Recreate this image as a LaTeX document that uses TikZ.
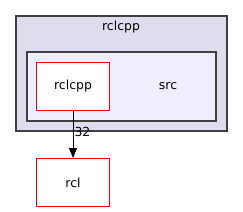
\documentclass[tikz,border=0pt]{standalone}
\usepackage{fontspec}
\setmainfont{DejaVu Sans}
\usetikzlibrary{arrows.meta}
\definecolor{outerfill}{HTML}{DDDDEE}
\definecolor{innerfill}{HTML}{EEEEFF}
\definecolor{framegray}{HTML}{404040}
\begin{document}
\begin{tikzpicture}[x=1bp,y=-1bp,
  lbl/.style={font=\fontsize{12.5}{14}\selectfont, inner sep=0pt},
  cluster/.style={draw=framegray, line width=1.3bp},
  dirbox/.style={draw=red, fill=white, line width=1bp, minimum width=72bp, minimum height=48bp, inner sep=0pt, font=\fontsize{12.5}{14}\selectfont},
  dep/.style={-{Triangle[length=10bp,width=8bp]}, line width=1bp}]
\useasboundingbox (0,0) rectangle (243,212);
\fill[white] (0,0) rectangle (243,212);
\draw[cluster, fill=outerfill] (16,16) rectangle (227,131);
\node[lbl] (outertitle) at (121,27) {rclcpp};
\draw[cluster, fill=innerfill] (27,52) rectangle (216,121);
\node[lbl] (src) at (168,86) {src};
\node[dirbox] (rclcpp) at (73,86) {rclcpp};
\node[dirbox] (rcl) at (73,182.5) {rcl};
\draw[dep] (rclcpp) -- (rcl) node[pos=0.45, right, lbl, xshift=1bp] {32};
\end{tikzpicture}
\end{document}
